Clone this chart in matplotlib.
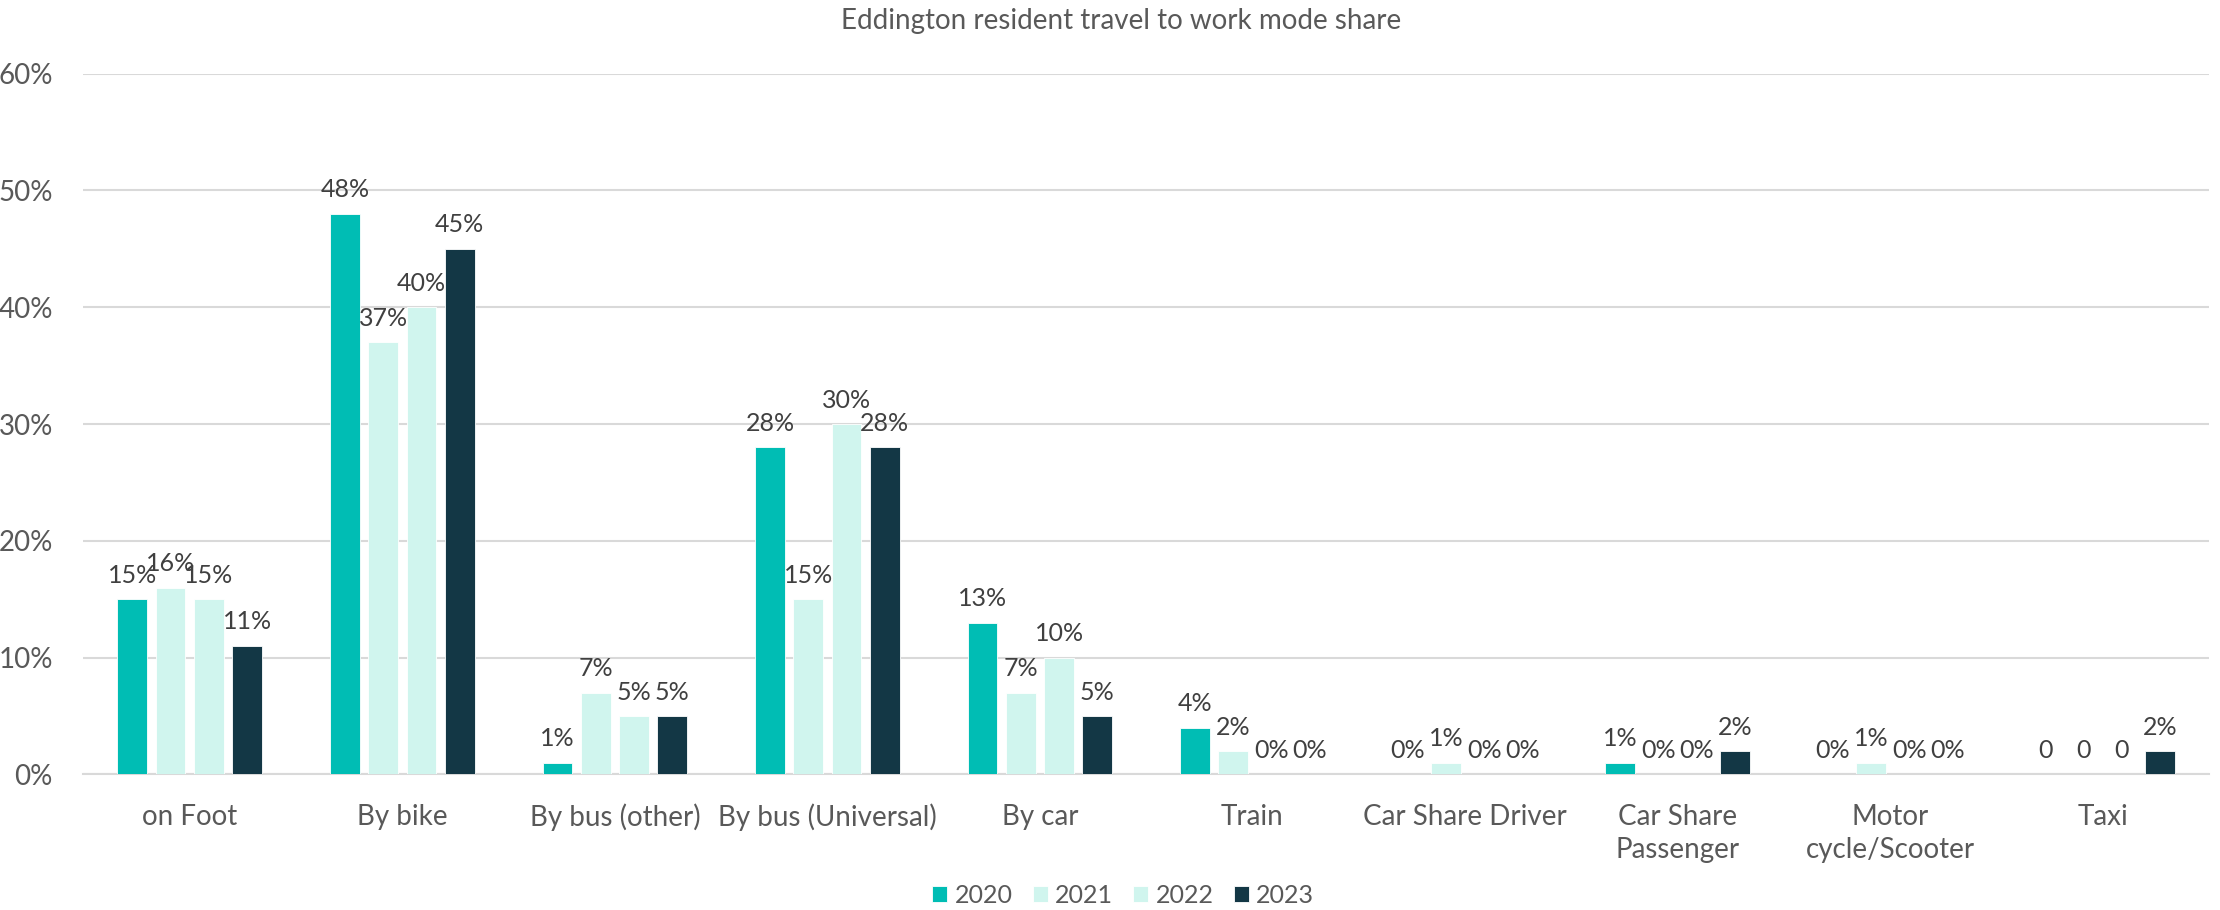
import matplotlib
matplotlib.use("Agg")
import matplotlib.pyplot as plt
import numpy as np

plt.rcParams['font.family'] = ['Lato', 'DejaVu Sans']

# Data (percent)
categories = ["on Foot", "By bike", "By bus (other)", "By bus (Universal)", "By car",
              "Train", "Car Share Driver", "Car Share\nPassenger", "Motor\ncycle/Scooter", "Taxi"]
years = ["2020", "2021", "2022", "2023"]
share_2020 = [15, 48, 1, 28, 13, 4, 0, 1, 0, 0]
share_2021 = [16, 37, 7, 15, 7, 2, 1, 0, 1, 0]
share_2022 = [15, 40, 5, 30, 10, 0, 0, 0, 0, 0]
share_2023 = [11, 45, 5, 28, 5, 0, 0, 2, 0, 2]
# categories where zero values are labelled "0" instead of "0%"
plain_zero_cats = ["Taxi"]

series = [share_2020, share_2021, share_2022, share_2023]
colors = ["#00BDB4", "#D0F5EE", "#D0F5EE", "#133745"]
text_col = "#595959"
grid_col = "#D9D9D9"

fig = plt.figure(figsize=(22.2, 9.1), dpi=100)
ax = fig.add_axes([0.0376, 0.149, 0.9574, 0.770])

x = np.arange(len(categories))
pitch = 0.18
width = 0.14

for i, (yr, vals, c) in enumerate(zip(years, series, colors)):
    pos = x + (i - 1.5) * pitch
    ax.bar(pos, vals, width, color=c, label=yr, zorder=3, edgecolor='white', linewidth=0.6)
    for p, v, cat in zip(pos, vals, categories):
        lab = "0" if (v == 0 and cat in plain_zero_cats) else f"{v}%"
        ax.annotate(lab, (p, v), xytext=(0, 9), textcoords='offset points',
                    ha='center', va='bottom', fontsize=18, color="#404040")

ax.set_ylim(0, 60)
ax.set_xlim(-0.5, len(categories) - 0.5)
ax.set_yticks(range(0, 61, 10))
ax.set_yticklabels([f"{t}%" for t in range(0, 61, 10)])
ax.set_xticks(x)
ax.set_xticklabels(categories, linespacing=1.35)
ax.tick_params(axis='both', length=0, labelsize=20, colors=text_col)
ax.tick_params(axis='x', pad=21)
ax.tick_params(axis='y', pad=22)

ax.yaxis.grid(True, color=grid_col, linewidth=1.5, zorder=0)
for s in ['top', 'right', 'left']:
    ax.spines[s].set_visible(False)
ax.spines['bottom'].set_color(grid_col)
ax.spines['bottom'].set_linewidth(1.5)

fig.text(0.505, 0.977, "Eddington resident travel to work mode share",
         ha='center', va='center', fontsize=20, color=text_col)

fig.legend(loc='center', bbox_to_anchor=(0.506, 0.016), ncol=4, frameon=False,
           fontsize=18, handlelength=0.6, handleheight=0.6, handletextpad=0.3,
           columnspacing=0.8, labelcolor=text_col)

fig.savefig("out.png", dpi=100)
